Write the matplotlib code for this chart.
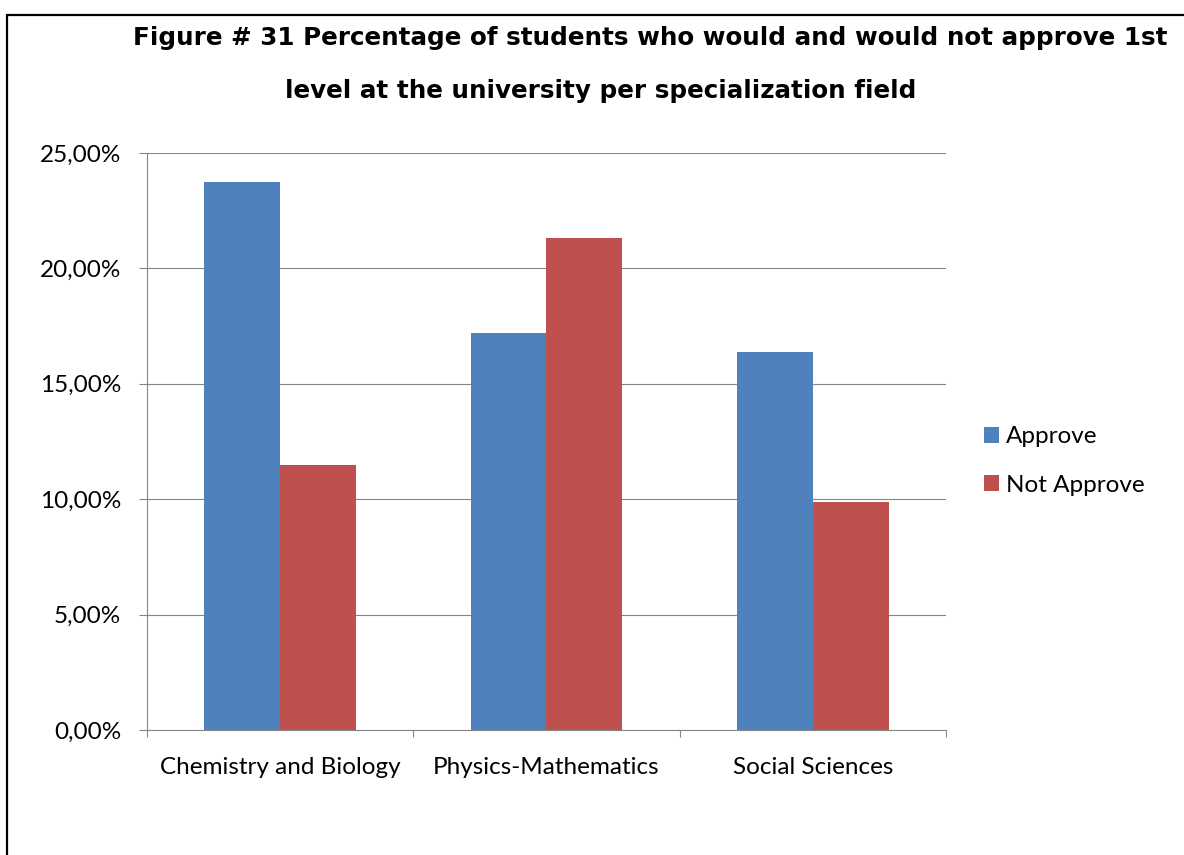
import matplotlib
matplotlib.use("Agg")
import matplotlib.pyplot as plt
from matplotlib.patches import Rectangle
from matplotlib.ticker import FuncFormatter, MultipleLocator
import numpy as np

categories = ["Chemistry and Biology", "Physics-Mathematics", "Social Sciences"]
approve = [23.74, 17.20, 16.38]
not_approve = [11.48, 21.32, 9.88]
series_names = ["Approve", "Not Approve"]
series_colors = ["#4F81BD", "#C0504D"]
title_lines = [
    "Figure # 31 Percentage of students who would and would not approve 1st",
    "level at the university per specialization field",
]

W, H = 1184, 855
fig = plt.figure(figsize=(W / 100, H / 100), dpi=100)
renderer = fig.canvas.get_renderer()


def fit_size(text, target_px, base=20, **kw):
    t = fig.text(0, 0, text, fontsize=base, **kw)
    w = t.get_window_extent(renderer).width
    t.remove()
    return base * target_px / w


LABEL_FONT = "Lato"
TITLE_FONT = "DejaVu Sans"
label_size = fit_size("Chemistry and Biology", 240, family=LABEL_FONT)

GRAY = "#868686"

ax = fig.add_axes([147 / W, 1 - 730 / H, (946 - 147) / W, (730 - 153) / H])

x = np.arange(len(categories))
bw = 0.285
ax.bar(x - bw / 2, approve, bw, color=series_colors[0], label=series_names[0], zorder=3)
ax.bar(x + bw / 2, not_approve, bw, color=series_colors[1], label=series_names[1], zorder=3)

ax.set_xlim(-0.5, len(categories) - 0.5)
ax.set_ylim(0, 25)
ax.yaxis.set_major_locator(MultipleLocator(5))
ax.yaxis.set_major_formatter(FuncFormatter(lambda v, p: f"{v:.2f}".replace(".", ",") + "%"))
ax.set_xticks(x)
ax.set_xticklabels(categories)
ax.set_xticks(np.arange(-0.5, len(categories)), minor=True)

ax.grid(axis="y", color=GRAY, linewidth=0.8, zorder=0)
ax.set_axisbelow(True)
for side in ("top", "right"):
    ax.spines[side].set_visible(False)
for side in ("left", "bottom"):
    ax.spines[side].set_color(GRAY)
    ax.spines[side].set_linewidth(0.8)

ax.tick_params(axis="y", which="major", length=5.5, width=0.8, color=GRAY, pad=13,
               labelsize=label_size, labelfontfamily=LABEL_FONT)
ax.tick_params(axis="x", which="major", length=0, pad=19.5,
               labelsize=label_size, labelfontfamily=LABEL_FONT)
ax.tick_params(axis="x", which="minor", length=5, width=0.8, color=GRAY)

leg = ax.legend(loc="center left", bbox_to_anchor=(984 / W, 1 - 461 / H),
                bbox_transform=fig.transFigure, frameon=False,
                prop={"family": LABEL_FONT, "size": label_size},
                handlelength=0.62, handleheight=0.62, handletextpad=0.3,
                labelspacing=1.12, borderaxespad=0, borderpad=0)

# Title, two centred lines
title_size = fit_size(title_lines[0], 1036, family=TITLE_FONT, fontweight="bold")
fig.text(650 / W, 1 - 45 / H, title_lines[0], ha="center", va="baseline",
         fontsize=title_size, fontweight="bold", family=TITLE_FONT)
fig.text(601 / W, 1 - 98 / H, title_lines[1], ha="center", va="baseline",
         fontsize=title_size, fontweight="bold", family=TITLE_FONT)

# Outer chart frame
fig.add_artist(Rectangle((7 / W, -0.1), 1.2, 1.1 - 15 / H, transform=fig.transFigure,
                         fill=False, edgecolor="black", linewidth=1.6, clip_on=False))

fig.savefig("out.png", dpi=100)
